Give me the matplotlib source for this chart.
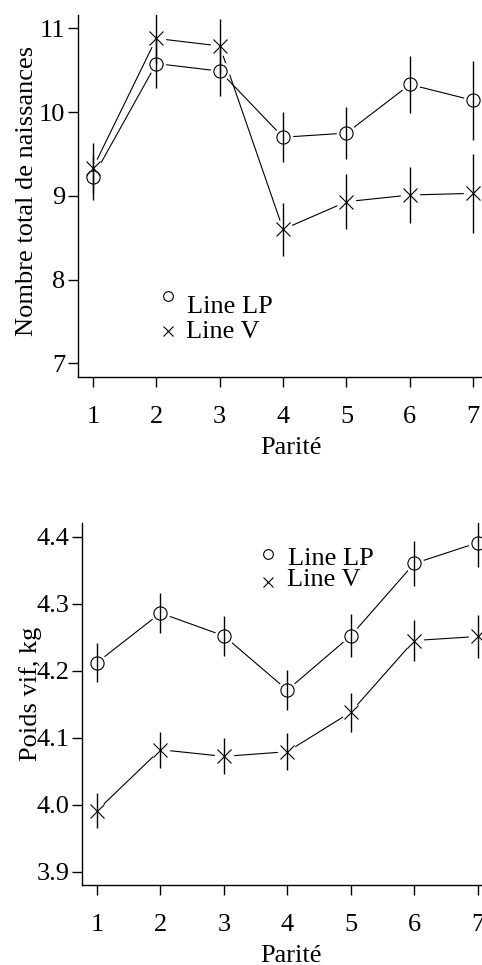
import matplotlib
matplotlib.use("Agg")
import matplotlib.pyplot as plt
import numpy as np

parite = [1, 2, 3, 4, 5, 6, 7]

# Top panel: Nombre total de naissances
nais_lp = [9.22, 10.58, 10.49, 9.70, 9.75, 10.33, 10.14]
nais_lp_err = [0.27, 0.29, 0.30, 0.30, 0.31, 0.34, 0.47]
nais_v = [9.33, 10.88, 10.79, 8.60, 8.93, 9.01, 9.03]
nais_v_err = [0.30, 0.29, 0.32, 0.32, 0.33, 0.34, 0.47]

# Bottom panel: Poids vif, kg
poids_lp = [4.212, 4.286, 4.252, 4.171, 4.252, 4.360, 4.391]
poids_lp_err = [0.029, 0.030, 0.030, 0.030, 0.032, 0.033, 0.036]
poids_v = [3.991, 4.082, 4.072, 4.079, 4.138, 4.245, 4.251]
poids_v_err = [0.026, 0.027, 0.027, 0.028, 0.029, 0.030, 0.032]

labels = ["Line LP", "Line V"]

plt.rcParams['font.family'] = ['Liberation Serif', 'DejaVu Serif']
FS = 19

fig = plt.figure(figsize=(4.82, 9.65), dpi=100)
W, H = 482.0, 965.0


def make_ax(left, right, top, bottom):
    return fig.add_axes([left / W, 1 - bottom / H, (right - left) / W, (bottom - top) / H])


def draw_series(ax, x, y, err, marker):
    ax.plot(x, y, color='black', lw=0.8, zorder=1)
    ax.plot(x, y, ls='none', marker='o', ms=13, mfc='white', mec='white', zorder=2)
    if marker == 'o':
        ax.plot(x, y, ls='none', marker='o', ms=9.5, mfc='none', mec='black', mew=0.8, zorder=3)
    else:
        ax.plot(x, y, ls='none', marker='x', ms=9.5, mec='black', mew=0.8, zorder=3)
    ax.errorbar(x, y, yerr=err, fmt='none', ecolor='black', elinewidth=1.0, capsize=0, zorder=4)


def style(ax, ylabel, yticks, yticklabels):
    for s in ['top', 'right']:
        ax.spines[s].set_visible(False)
    for s in ['left', 'bottom']:
        ax.spines[s].set_linewidth(1.0)
    ax.set_xticks(parite)
    ax.set_xticklabels([str(p) for p in parite])
    ax.set_yticks(yticks)
    ax.set_yticklabels(yticklabels)
    ax.tick_params(axis='x', direction='out', length=7, width=1.0, pad=14, labelsize=FS)
    ax.tick_params(axis='y', direction='out', length=7, width=1.0, pad=2, labelsize=FS)
    ax.set_xlabel("Parité", fontsize=FS)
    ax.set_ylabel(ylabel, fontsize=FS)


# Top
ax1 = make_ax(77.7, 488.5, 15, 376.7)
draw_series(ax1, parite, nais_lp, nais_lp_err, 'o')
draw_series(ax1, parite, nais_v, nais_v_err, 'x')
ax1.set_xlim(0.76, 7.24)
ax1.set_ylim(6.84, 11.16)
style(ax1, "Nombre total de naissances", [7, 8, 9, 10, 11], ["7", "8", "9", "10", "11"])
ax1.xaxis.set_label_coords(0.519, -0.166)
ax1.yaxis.set_label_coords(-0.097, 0.513)
ax1.plot([0.2198], [0.2231], transform=ax1.transAxes, marker='o', ms=7, mfc='none', mec='black', mew=0.8, clip_on=False)
ax1.text(0.266, 0.1927, labels[0], transform=ax1.transAxes, fontsize=FS, va='center', ha='left')
ax1.plot([0.2198], [0.1264], transform=ax1.transAxes, marker='x', ms=7, mec='black', mew=0.8, clip_on=False)
ax1.text(0.2637, 0.1236, labels[1], transform=ax1.transAxes, fontsize=FS, va='center', ha='left')

# Bottom
ax2 = make_ax(81.7, 492.9, 523.3, 885)
draw_series(ax2, parite, poids_lp, poids_lp_err, 'o')
draw_series(ax2, parite, poids_v, poids_v_err, 'x')
ax2.set_xlim(0.76, 7.24)
ax2.set_ylim(3.88, 4.42)
style(ax2, "Poids vif, kg", [3.9, 4.0, 4.1, 4.2, 4.3, 4.4], ["3.9", "4.0", "4.1", "4.2", "4.3", "4.4"])
ax2.xaxis.set_label_coords(0.509, -0.166)
ax2.yaxis.set_label_coords(-0.0965, 0.528)
ax2.plot([0.453], [0.915], transform=ax2.transAxes, marker='o', ms=7, mfc='none', mec='black', mew=0.8, clip_on=False)
ax2.text(0.5017, 0.9013, labels[0], transform=ax2.transAxes, fontsize=FS, va='center', ha='left')
ax2.plot([0.453], [0.8386], transform=ax2.transAxes, marker='x', ms=7, mec='black', mew=0.8, clip_on=False)
ax2.text(0.4993, 0.8433, labels[1], transform=ax2.transAxes, fontsize=FS, va='center', ha='left')

fig.savefig("out.png", dpi=100)
